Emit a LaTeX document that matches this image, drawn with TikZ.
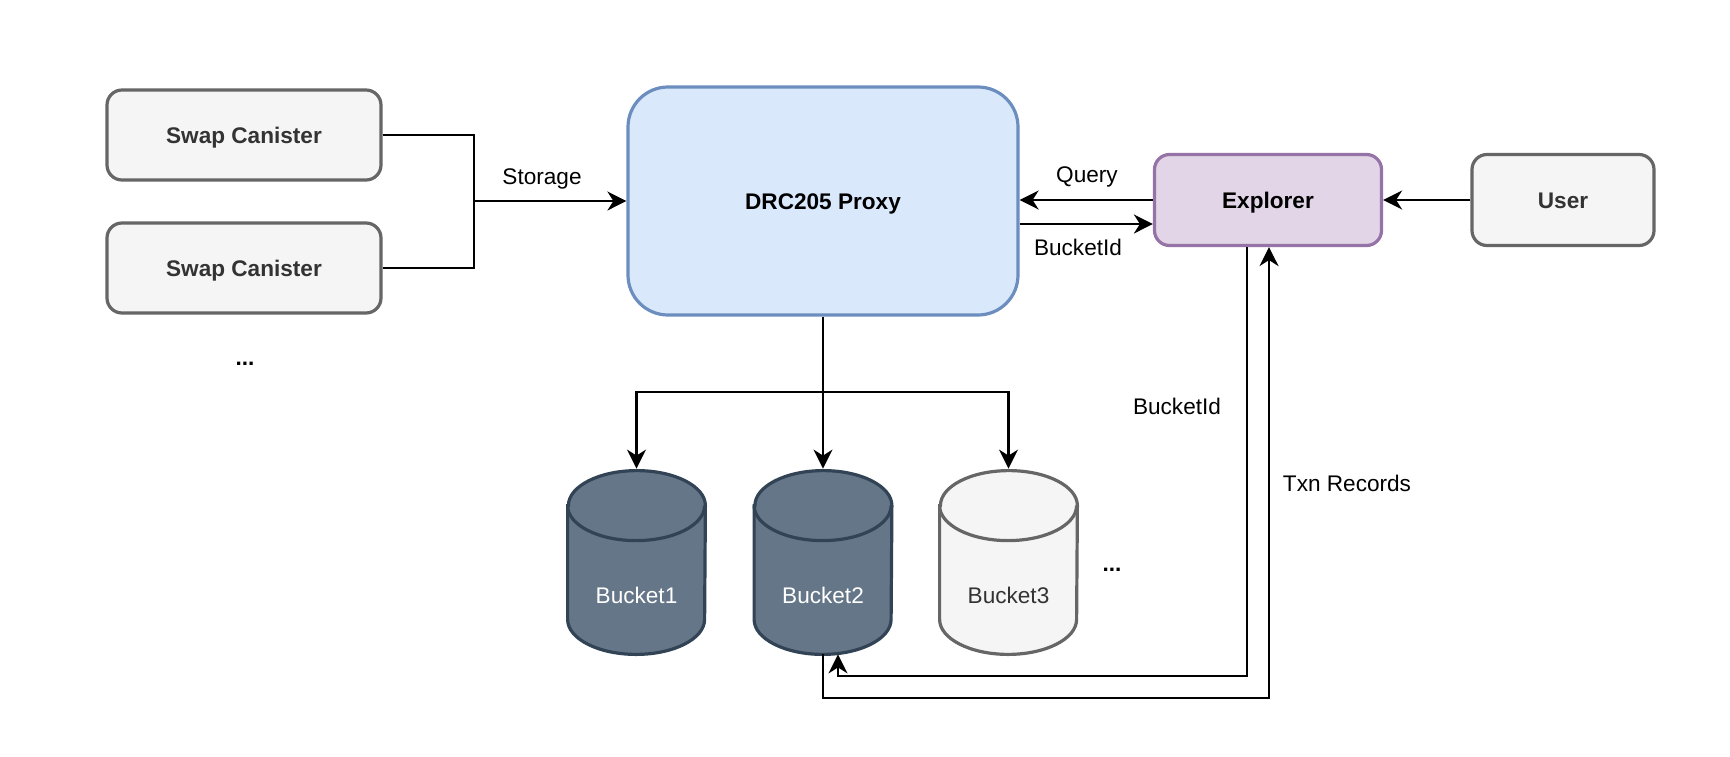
\documentclass[tikz,border=0pt]{standalone}
\usepackage{fontspec}
\setmainfont{Liberation Sans}
\usetikzlibrary{arrows.meta,backgrounds}
\definecolor{grayfill}{HTML}{F5F5F5}
\definecolor{graystroke}{HTML}{666666}
\definecolor{graytext}{HTML}{333333}
\definecolor{bluefill}{HTML}{DAE8FC}
\definecolor{bluestroke}{HTML}{6C8EBF}
\definecolor{purplefill}{HTML}{E1D5E7}
\definecolor{purplestroke}{HTML}{9673A6}
\definecolor{slatefill}{HTML}{647687}
\definecolor{slatestroke}{HTML}{314354}
\newcommand\drawbucket[3]{%
  \draw[fill=#2, draw=#3, line width=1.6pt]
    ([yshift=-17.5pt]#1.north west) -- ([yshift=17.5pt]#1.south west)
    arc[start angle=180,end angle=360,x radius=34.25pt,y radius=17.5pt]
    -- ([yshift=-17.5pt]#1.north east)
    arc[start angle=0,end angle=180,x radius=34.25pt,y radius=17.5pt] -- cycle;
  \draw[draw=#3, line width=1.6pt] ([yshift=-17.5pt]#1.north west)
    arc[start angle=180,end angle=360,x radius=34.25pt,y radius=17.5pt];
}
\begin{document}
\begin{tikzpicture}[x=0.5pt,y=-0.5pt,
  font=\fontsize{11.3}{13.5}\selectfont,
  box/.style={draw, rounded corners=7.5pt, line width=1.6pt, inner sep=0pt,
    text height=1.0em, text depth=0.15em,
    font=\fontsize{11.3}{13.5}\selectfont\bfseries},
  graybox/.style={box, fill=grayfill, draw=graystroke, text=graytext},
  conn/.style={line width=1.1pt, draw=black},
  arr/.style={conn, -{Stealth[length=9.5pt,width=9.5pt,inset=3pt]}},
  lbl/.style={inner sep=0pt, text=black},
  dots/.style={inner sep=0pt, font=\fontsize{11.3}{13.5}\selectfont\bfseries},
  bucketbox/.style={minimum width=68.5pt, minimum height=91.5pt, inner sep=0pt},
]
\useasboundingbox (0,0) rectangle (1730,756);

% left boxes
\node[graybox, minimum width=137pt, minimum height=45pt] (s1) at (244,135) {Swap Canister};
\node[graybox, minimum width=137pt, minimum height=45pt] (s2) at (244,268) {Swap Canister};
\node[dots, text=black] (d1) at (245,364) {...};

% proxy
\node[box, fill=bluefill, draw=bluestroke, rounded corners=20pt,
      minimum width=195pt, minimum height=114pt] (proxy) at (823,201) {DRC205 Proxy};

% explorer and user
\node[box, fill=purplefill, draw=purplestroke, minimum width=113.5pt, minimum height=45.5pt] (expl) at (1268,200) {Explorer};
\node[graybox, minimum width=91pt, minimum height=45.5pt] (user) at (1563,200) {User};

% buckets
\node[bucketbox, text=white] (b1) at (636.5,562.5) {\raisebox{-20.5pt}[0pt][0pt]{Bucket1}};
\node[bucketbox, text=white] (b2) at (823,562.5) {\raisebox{-20.5pt}[0pt][0pt]{Bucket2}};
\node[bucketbox, text=graytext] (b3) at (1008.5,562.5) {\raisebox{-20.5pt}[0pt][0pt]{Bucket3}};
\begin{scope}[on background layer]
  \drawbucket{b1}{slatefill}{slatestroke}
  \drawbucket{b2}{slatefill}{slatestroke}
  \drawbucket{b3}{grayfill}{graystroke}
\end{scope}
\node[dots, text=black] (d2) at (1112,570) {...};

% storage connectors
\coordinate (j) at (474,201);
\draw[conn] (s1.east) -| (j);
\draw[conn] (s2.east) -| (j);
\draw[arr] (j) -- (proxy.west);
\node[lbl] (lstorage) at (542,179) {Storage};

% proxy <-> explorer
\draw[arr] (expl.west) -- (expl.west -| proxy.east);
\draw[arr] ([yshift=-11.5pt]proxy.east) -- ([yshift=-11.5pt]proxy.east -| expl.west);
\node[lbl] (lquery) at (1087,177) {Query};
\node[lbl] (lbid1) at (1078,247) {BucketId};

% user -> explorer
\draw[arr] (user.west) -- (expl.east);

% proxy -> buckets
\coordinate (split) at (823,392);
\draw[arr] (proxy.south) -- ([yshift=1pt]b2.north);
\draw[arr] (split) -| ([yshift=1pt]b1.north);
\draw[arr] (split) -| ([yshift=1pt]b3.north);

% explorer <-> bucket2
\coordinate (c1) at (1247,676);
\coordinate (c2) at (1269,698);
\draw[arr] (expl.south -| c1) -- (c1) -| ([xshift=7.5pt]b2.south);
\draw[arr] (b2.south) |- (c2) -- (expl.south -| c2);
\node[lbl] (lbid2) at (1177,406) {BucketId};
\node[lbl] (ltxn) at (1347,483) {Txn Records};
\end{tikzpicture}
\end{document}
